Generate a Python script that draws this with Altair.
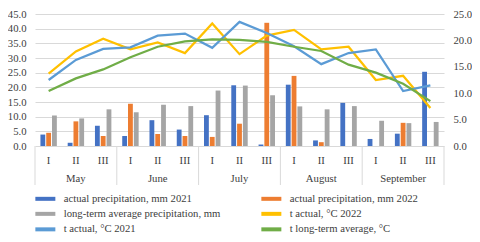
import altair as alt
import pandas as pd

months = ["May", "June", "July", "August", "September"]
dekads = ["I", "II", "III"]

precip_2021 = [3.9, 1.1, 6.9, 3.4, 8.8, 5.6, 10.5, 20.7, 0.5, 20.9, 1.9, 14.7, 2.4, 4.2, 25.3]
precip_2022 = [4.5, 8.4, 3.4, 14.4, 4.1, 3.4, 3.1, 7.6, 42.0, 23.9, 1.3, 0.0, 0.0, 7.9, 0.0]
precip_avg = [10.4, 9.4, 12.5, 11.5, 14.1, 13.6, 18.9, 20.6, 17.3, 13.5, 12.5, 13.6, 8.6, 7.8, 8.2]

t_2022 = [13.7, 17.9, 20.3, 18.3, 19.6, 17.6, 23.2, 17.4, 20.9, 22.0, 18.3, 18.8, 12.5, 13.3, 7.2]
t_2021 = [12.5, 16.3, 18.4, 18.7, 20.9, 21.3, 18.6, 23.5, 21.4, 18.9, 15.5, 17.6, 18.3, 10.4, 11.5]
t_avg = [10.4, 12.8, 14.5, 16.8, 18.8, 19.8, 20.2, 20.1, 19.7, 18.8, 18.0, 15.4, 13.9, 11.8, 8.5]

bar_names = ["actual precipitation, mm 2021", "actual precipitation, mm 2022",
             "long-term average precipitation, mm"]
line_names = ["t actual, °C 2022", "t actual, °C 2021", "t long-term average, °C"]
colors = ["#4472C4", "#ED7D31", "#A5A5A5", "#FFC000", "#5B9BD5", "#70AD47"]

left_ticks = [0, 5, 10, 15, 20, 25, 30, 35, 40, 45]
right_ticks = [0, 5, 10, 15, 20, 25]

keys = [f"{m} {d}" for m in months for d in dekads]
all_names = bar_names + line_names

bar_rows = []
for name, vals in zip(bar_names, [precip_2021, precip_2022, precip_avg]):
    for k, v in zip(keys, vals):
        bar_rows.append({"key": k, "series": name, "value": v})
bars_df = pd.DataFrame(bar_rows)

line_rows = []
for name, vals in zip(line_names, [t_2022, t_2021, t_avg]):
    for k, v in zip(keys, vals):
        line_rows.append({"key": k, "series": name, "value": v})
lines_df = pd.DataFrame(line_rows)

dekad_df = pd.DataFrame({"key": keys, "label": [d for m in months for d in dekads]})
month_df = pd.DataFrame({"key": [f"{m} II" for m in months], "label": months})
sep_start_df = pd.DataFrame({"key": [f"{m} I" for m in months]})
sep_end_df = pd.DataFrame({"key": [keys[-1]]})

W, H = 409, 132
FONT = "Liberation Serif"
FS = 10.7
TXT = "#404040"
GRID = "#d9d9d9"

xscale = alt.Scale(domain=keys, paddingInner=0, paddingOuter=0)

bars = alt.Chart(bars_df).mark_bar().encode(
    x=alt.X("key:N", scale=xscale,
            axis=alt.Axis(labels=False, ticks=False, grid=False, domain=True,
                          domainColor=GRID, domainWidth=1, title="")),
    xOffset=alt.XOffset("series:N",
                        scale=alt.Scale(domain=bar_names, paddingInner=0.17, paddingOuter=0.935)),
    y=alt.Y("value:Q", scale=alt.Scale(domain=[0, 45]),
            axis=alt.Axis(values=left_ticks, format=".1f", grid=True, gridColor=GRID,
                          gridWidth=1, domain=False, ticks=False, labelPadding=9,
                          labelFont=FONT, labelFontSize=FS, labelColor=TXT, title="")),
    color=alt.Color("series:N", scale=alt.Scale(domain=all_names, range=colors),
                    legend=alt.Legend(orient="none", legendX=0, legendY=179, columns=2,
                                      direction="horizontal",
                                      title="", symbolType="M-2,-0.4H2V0.4H-2Z",
                                      symbolSize=100, symbolOffset=5, labelOffset=13,
                                      columnPadding=40, rowPadding=3.5, padding=0,
                                      labelFont=FONT, labelFontSize=FS, labelColor=TXT,
                                      labelLimit=400, symbolStrokeWidth=0)),
)

lines = alt.Chart(lines_df).mark_line(strokeWidth=2.25).encode(
    x=alt.X("key:N", scale=xscale, bandPosition=0.5, axis=None),
    y=alt.Y("value:Q", scale=alt.Scale(domain=[0, 25]),
            axis=alt.Axis(orient="right", values=right_ticks, format=".1f", grid=False,
                          domain=False, ticks=False, labelPadding=9,
                          labelFont=FONT, labelFontSize=FS, labelColor=TXT, title="")),
    color=alt.Color("series:N", scale=alt.Scale(domain=all_names, range=colors), legend=None),
    detail="series:N",
)

dekad_text = alt.Chart(dekad_df).mark_text(font=FONT, fontSize=FS, color=TXT, baseline="middle").encode(
    x=alt.X("key:N", scale=xscale, bandPosition=0.5, axis=None),
    y=alt.value(H + 15),
    text="label:N",
)

month_text = alt.Chart(month_df).mark_text(font=FONT, fontSize=FS, color=TXT, baseline="middle").encode(
    x=alt.X("key:N", scale=xscale, bandPosition=0.5, axis=None),
    y=alt.value(H + 33),
    text="label:N",
)

sep_start = alt.Chart(sep_start_df).mark_rule(color=GRID, strokeWidth=1).encode(
    x=alt.X("key:N", scale=xscale, bandPosition=0, axis=None),
    y=alt.value(H),
    y2=alt.value(H + 39),
)

sep_end = alt.Chart(sep_end_df).mark_rule(color=GRID, strokeWidth=1).encode(
    x=alt.X("key:N", scale=xscale, bandPosition=1, axis=None),
    y=alt.value(H),
    y2=alt.value(H + 39),
)

chart = alt.layer(bars, lines, sep_start, sep_end, dekad_text, month_text).resolve_scale(
    y="independent"
).properties(
    width=W, height=H,
    autosize=alt.AutoSizeParams(type="none"),
    padding={"left": 27, "top": 6, "right": 28, "bottom": 88},
    background="white",
).configure_view(strokeWidth=0)

chart.save("out.html", embed_options={"renderer": "svg", "actions": False})
